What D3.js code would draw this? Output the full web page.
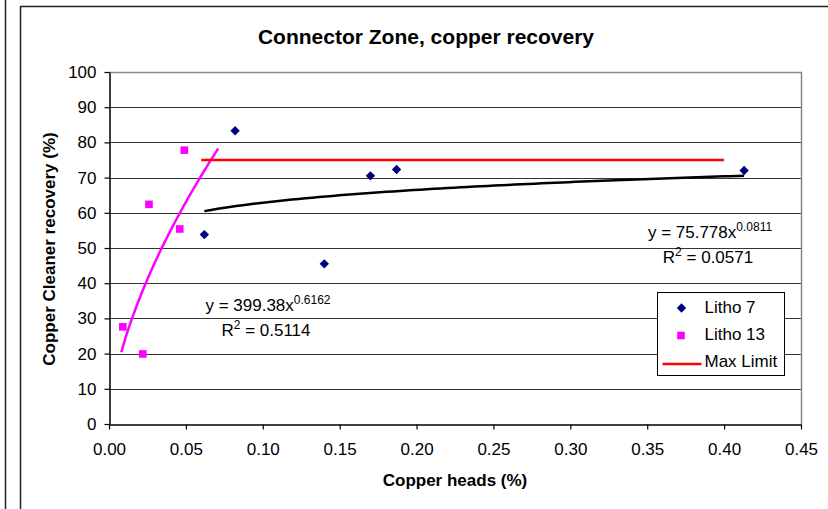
<!DOCTYPE html>
<html>
<head>
<meta charset="UTF-8">
<style>
  body { margin: 0; background: #fff; font-family: Arial, "Liberation Sans", sans-serif; }
  svg { display: block; }
</style>
</head>
<body>
<script src="https://d3js.org/d3.v7.min.js"></script>
<div id="chart"></div>
<script>
  // data
  var litho7X = [0.062, 0.082, 0.140, 0.170, 0.187, 0.413];
  var litho7Y = [53.8, 83.3, 45.5, 70.5, 72.3, 72.0];

  var litho13X = [0.009, 0.022, 0.026, 0.046, 0.049];
  var litho13Y = [27.6, 19.9, 62.4, 55.4, 77.8];

  var maxLimitX = [0.06, 0.40];
  var maxLimitY = [75, 75];

  // power trendlines y = a * x^b, as printed on the chart
  var trend7 = [75.778, 0.0811];
  var trend7Range = [0.062, 0.413];
  var trend13 = [399.38, 0.6162];
  var trend13Range = [0.008, 0.071];

  var xTicks = [0, 0.05, 0.1, 0.15, 0.2, 0.25, 0.3, 0.35, 0.4, 0.45];
  var yTicks = [0, 10, 20, 30, 40, 50, 60, 70, 80, 90, 100];

  var width = 828, height = 509;
  var margin = {top: 72, right: 27, bottom: 85, left: 109};
  var font = "Arial, 'Liberation Sans', sans-serif";

  var svg = d3.select("#chart").append("svg")
    .attr("width", width)
    .attr("height", height)
    .style("font-family", font);

  // outer frames
  svg.append("line").attr("x1", 5.5).attr("x2", 5.5).attr("y1", 0).attr("y2", height)
    .attr("stroke", "#222").attr("stroke-width", 1.5);
  svg.append("path").attr("d", "M20.5," + height + "V6.5H" + width)
    .attr("fill", "none").attr("stroke", "#222").attr("stroke-width", 1.5);

  var x = d3.scaleLinear().domain([0, 0.45]).range([margin.left, width - margin.right]);
  var y = d3.scaleLinear().domain([0, 100]).range([height - margin.bottom, margin.top]);

  // gridlines
  svg.append("g")
    .selectAll("line")
    .data(yTicks.filter(function(d) { return d > 0 && d < 100; }))
    .join("line")
    .attr("x1", x(0)).attr("x2", x(0.45))
    .attr("y1", function(d) { return Math.round(y(d)) + 0.5; })
    .attr("y2", function(d) { return Math.round(y(d)) + 0.5; })
    .attr("stroke", "#333").attr("stroke-width", 1);

  // plot border top/right (gray)
  svg.append("path")
    .attr("d", "M" + x(0) + "," + (Math.round(y(100)) + 0.5) + "H" + (Math.round(x(0.45)) + 0.5) + "V" + y(0))
    .attr("fill", "none").attr("stroke", "#888").attr("stroke-width", 1.5);

  // axes
  var xAxis = svg.append("g")
    .attr("transform", "translate(0," + (Math.round(y(0)) + 0.5) + ")")
    .call(d3.axisBottom(x).tickValues(xTicks).tickSize(5).tickSizeOuter(0).tickPadding(13)
      .tickFormat(d3.format(".2f")));
  var yAxis = svg.append("g")
    .attr("transform", "translate(" + (Math.round(x(0)) + 0.5) + ",0)")
    .call(d3.axisLeft(y).tickValues(yTicks).tickSize(5).tickSizeOuter(0).tickPadding(8));

  [xAxis, yAxis].forEach(function(g) {
    g.attr("font-family", font).attr("font-size", 17);
    g.select(".domain").attr("stroke", "#000").attr("stroke-width", 1.5);
    g.selectAll(".tick line").attr("stroke", "#000").attr("stroke-width", 1.2);
    g.selectAll("text").attr("fill", "#000");
  });

  // trendlines
  function powerCurve(coef, range) {
    var pts = d3.range(0, 81).map(function(i) {
      var xv = range[0] + (range[1] - range[0]) * i / 80;
      return [xv, coef[0] * Math.pow(xv, coef[1])];
    });
    return pts;
  }
  var line = d3.line().x(function(d) { return x(d[0]); }).y(function(d) { return y(d[1]); });

  svg.append("path").datum(powerCurve(trend7, trend7Range))
    .attr("d", line).attr("fill", "none").attr("stroke", "#000").attr("stroke-width", 2.5);
  svg.append("path").datum(powerCurve(trend13, trend13Range))
    .attr("d", line).attr("fill", "none").attr("stroke", "#ff00ff").attr("stroke-width", 2.5);

  // max limit
  svg.append("path").datum(d3.zip(maxLimitX, maxLimitY))
    .attr("d", line).attr("fill", "none").attr("stroke", "#ff0000").attr("stroke-width", 2.5);

  // markers
  var diamond = d3.symbol().type(d3.symbolDiamond2).size(56);
  var square = d3.symbol().type(d3.symbolSquare).size(58);

  svg.append("g").selectAll("path")
    .data(d3.zip(litho7X, litho7Y))
    .join("path")
    .attr("d", diamond)
    .attr("transform", function(d) { return "translate(" + x(d[0]) + "," + y(d[1]) + ")"; })
    .attr("fill", "#000080");

  svg.append("g").selectAll("path")
    .data(d3.zip(litho13X, litho13Y))
    .join("path")
    .attr("d", square)
    .attr("transform", function(d) { return "translate(" + x(d[0]) + "," + y(d[1]) + ")"; })
    .attr("fill", "#ff00ff");

  // equation labels
  function equation(cx, cy, a, b, r2) {
    var t = svg.append("text").attr("x", cx).attr("y", cy)
      .attr("text-anchor", "middle").style("font-size", "17px").attr("fill", "#000");
    t.append("tspan").text("y = " + a + "x");
    t.append("tspan").attr("dy", -7).style("font-size", "12px").text(b);
    var r = svg.append("text").attr("x", cx - 2).attr("y", cy + 25)
      .attr("text-anchor", "middle").style("font-size", "17px").attr("fill", "#000");
    r.append("tspan").text("R");
    r.append("tspan").attr("dy", -7).style("font-size", "12px").text("2");
    r.append("tspan").attr("dy", 7).text(" = " + r2);
  }
  equation(710, 238, "75.778", "0.0811", "0.0571");
  equation(268, 311, "399.38", "0.6162", "0.5114");

  // title and axis titles
  svg.append("text").attr("x", 426).attr("y", 44).attr("text-anchor", "middle")
    .style("font-size", "21px").style("font-weight", "bold").text("Connector Zone, copper recovery");
  svg.append("text").attr("x", 455).attr("y", 486).attr("text-anchor", "middle")
    .style("font-size", "17px").style("font-weight", "bold").text("Copper heads (%)");
  svg.append("text").attr("transform", "translate(55,249) rotate(-90)").attr("text-anchor", "middle")
    .style("font-size", "17px").style("font-weight", "bold").text("Copper Cleaner recovery (%)");

  // legend
  var legend = svg.append("g").attr("transform", "translate(657.5,292.5)");
  legend.append("rect").attr("width", 127).attr("height", 83)
    .attr("fill", "#fff").attr("stroke", "#000").attr("stroke-width", 1);
  var legendItems = ["Litho 7", "Litho 13", "Max Limit"];
  legend.selectAll("text").data(legendItems).join("text")
    .attr("x", 47).attr("y", function(d, i) { return 20 + i * 27; })
    .style("font-size", "17px").attr("fill", "#000").text(function(d) { return d; });
  legend.append("path").attr("d", diamond).attr("transform", "translate(24,15.5)").attr("fill", "#000080");
  legend.append("path").attr("d", square).attr("transform", "translate(23.5,43)").attr("fill", "#ff00ff");
  legend.append("line").attr("x1", 5).attr("x2", 44).attr("y1", 71.5).attr("y2", 71.5)
    .attr("stroke", "#ff0000").attr("stroke-width", 2.5);
</script>
</body>
</html>
